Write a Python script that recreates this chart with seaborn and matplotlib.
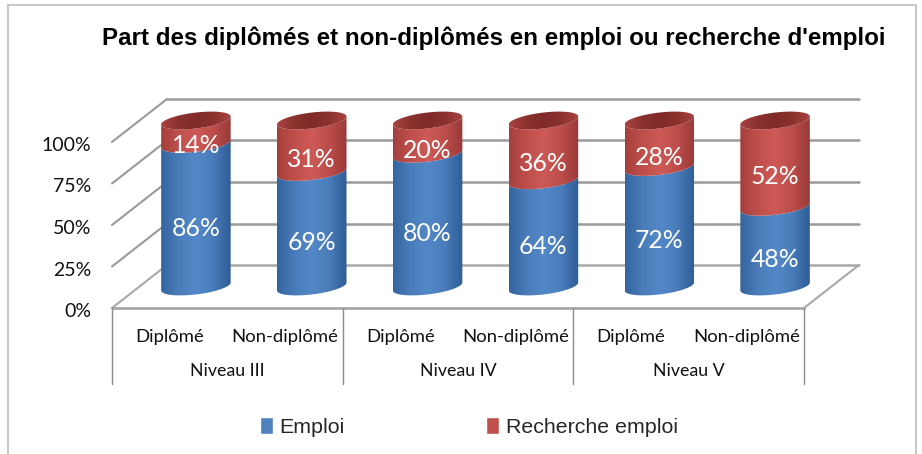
import numpy as np
import pandas as pd
import matplotlib
matplotlib.use("Agg")
import matplotlib.pyplot as plt
import seaborn as sns
from matplotlib.colors import LinearSegmentedColormap
from matplotlib.patches import Patch, Polygon, Rectangle
from matplotlib.transforms import ScaledTranslation

# ---- data ----
groups = ["Niveau III", "Niveau IV", "Niveau V"]
categories = ["Diplômé", "Non-diplômé"] * 3
emploi = [86, 69, 80, 64, 72, 48]
recherche = [14, 31, 20, 36, 28, 52]
yticks = [0, 25, 50, 75, 100]
series_names = ["Emploi", "Recherche emploi"]

W, H = 922, 454
sns.set_theme(style="white")
plt.rcParams["font.family"] = ["Lato", "DejaVu Sans"]

fig = plt.figure(figsize=(W / 100, H / 100), dpi=100, facecolor="white")

# front plane of the 3D box, in pixels of the picture
L, R, Y0, Y100 = 112, 804, 308, 142
DX, DY = 55, 43   # depth in pixels
UNIT = (Y0 - Y100) / 100


def axes_px(l, r, bottom, top):
    return fig.add_axes([l / W, 1 - bottom / H, (r - l) / W, (bottom - top) / H])


ax = axes_px(L, R, Y0, Y100)
ax.set_xlim(-0.5, 5.5)
ax.set_ylim(0, 100)
ax.patch.set_alpha(0)
for s in ax.spines.values():
    s.set_visible(False)

dx = DX / (R - L) * 6
dy = DY / UNIT
GRID = "#9a9a9a"
for i, t in enumerate(yticks):
    c = "#a8a8a8" if t == 0 else GRID
    ax.plot([-0.5, -0.5 + dx], [t, t + dy], color=c, lw=1.5, clip_on=False, zorder=1)
    ax.plot([-0.5 + dx, 5.5 + dx], [t + dy, t + dy], color=c, lw=1.8, clip_on=False, zorder=1)
ax.plot([-0.5, 5.5], [0, 0], color="#a8a8a8", lw=2, clip_on=False, zorder=1)
ax.plot([5.5, 5.5 + dx], [0, dy], color="#a8a8a8", lw=1.5, clip_on=False, zorder=1)

ax.set_yticks(yticks)
ax.set_yticklabels([f"{t}%" for t in yticks], fontsize=14, color="#111111")
ax.tick_params(axis="y", length=0, pad=15)
shift = ScaledTranslation(0, -2 / 100, fig.dpi_scale_trans)
for lab in ax.get_yticklabels():
    lab.set_transform(lab.get_transform() + shift)
ax.set_xticks(range(6))
ax.set_xticklabels(categories, fontsize=13.3, color="#111111")
ax.tick_params(axis="x", length=0, pad=15)

# group brackets
sep_bottom = (Y0 - 384) / UNIT
for x in [-0.5, 1.5, 3.5, 5.5]:
    ax.plot([x, x], [0, sep_bottom], color="#8c8c8c", lw=1, clip_on=False, zorder=1)
for i, g in enumerate(groups):
    ax.text(2 * i + 0.5, (Y0 - 371) / UNIT, g, ha="center", va="center",
            fontsize=12.8, color="#111111")

# bars live half-way through the depth; the axes reach past 0 and 100 so the
# round ends of the cylinders stay inside them
PAD = 15
bx = axes_px(138, 833, Y0 - DY / 2 + PAD * UNIT, Y100 - DY / 2 - PAD * UNIT)
bx.patch.set_alpha(0)

df = pd.DataFrame({"i": range(6), "emploi": emploi, "total": np.add(emploi, recherche)})
sns.barplot(data=df, x="i", y="total", color="#C0504D", saturation=1, width=0.6, ax=bx, legend=False)
sns.barplot(data=df, x="i", y="emploi", color="#4F81BD", saturation=1, width=0.6, ax=bx, legend=False)
bx.set_axis_off()

A_W, K, B = 0.3, 2.4, 4.8     # ellipse half-width (x units), tilt and half-height (y units)
t_front = np.linspace(np.pi, 2 * np.pi, 40)
t_full = np.linspace(0, 2 * np.pi, 80)


def arc(xc, v, ts):
    return np.column_stack([xc + A_W * np.cos(ts), v + B * np.sin(ts) + K * np.cos(ts)])


blue_cm = LinearSegmentedColormap.from_list("b", ["#35659f", "#4a7cba", "#5388c8", "#4a7cba", "#2f5e98"])
red_cm = LinearSegmentedColormap.from_list("r", ["#a5403d", "#c04f4c", "#cd5a57", "#bd4d4a", "#9a3a38"])
top_cm = LinearSegmentedColormap.from_list("t", ["#a84341", "#8a312f", "#7f2b2a", "#8a312f", "#a84341"])
grad = np.linspace(0, 1, 64)[None, :]


def shaded(verts, xc, lo, hi, cmap, z):
    poly = Polygon(verts, closed=True, transform=bx.transData, fc="none", ec="none")
    bx.add_patch(poly)
    im = bx.imshow(grad, cmap=cmap, aspect="auto", origin="lower", zorder=z,
                   extent=(xc - A_W, xc + A_W, lo, hi), interpolation="bilinear")
    im.set_clip_path(poly)


for i, (e, r) in enumerate(zip(emploi, recherche)):
    tot = e + r
    lower = arc(i, 0, t_front)
    mid = arc(i, e, t_front)
    upper = arc(i, tot, t_front)
    shaded(np.vstack([lower, mid[::-1]]), i, -10, e + 10, blue_cm, 3)
    shaded(np.vstack([mid, upper[::-1]]), i, e - 10, tot + 10, red_cm, 3.1)
    shaded(arc(i, tot, t_full), i, tot - 10, tot + 10, top_cm, 3.2)
    bx.text(i, e / 2 - 8, f"{e}%", color="white", ha="center", va="center", fontsize=17.8, zorder=5)
    bx.text(i, e + r / 2 - 8, f"{r}%", color="white", ha="center", va="center", fontsize=17.8, zorder=5)

for p in bx.patches:
    if isinstance(p, Rectangle):
        p.set_visible(False)
bx.set_xlim(-0.5, 5.5)
bx.set_ylim(-PAD, 100 + PAD)

fig.text(494 / W, 1 - 38 / H, "Part des diplômés et non-diplômés en emploi ou recherche d'emploi",
         ha="center", va="center", fontsize=17.4, fontweight="bold", family="Liberation Sans", color="black")

handles = [Patch(fc="#4F81BD"), Patch(fc="#C0504D")]
fig.legend(handles, series_names, loc="center", bbox_to_anchor=(469 / W, 1 - 427 / H), ncol=2, frameon=False,
           prop={"family": "Liberation Sans", "size": 15.4}, handlelength=0.62, handleheight=0.85,
           handletextpad=0.3, columnspacing=6.6)

# chart border
BORDER = "#c8c8c8"
fig.add_artist(plt.Line2D([8 / W, 8 / W], [0, 1 - 5 / H], color=BORDER, lw=1.5))
fig.add_artist(plt.Line2D([916 / W, 916 / W], [0, 1 - 5 / H], color=BORDER, lw=1.5))
fig.add_artist(plt.Line2D([8 / W, 916 / W], [1 - 5 / H, 1 - 5 / H], color=BORDER, lw=1.5))

fig.savefig("out.png", dpi=100)
